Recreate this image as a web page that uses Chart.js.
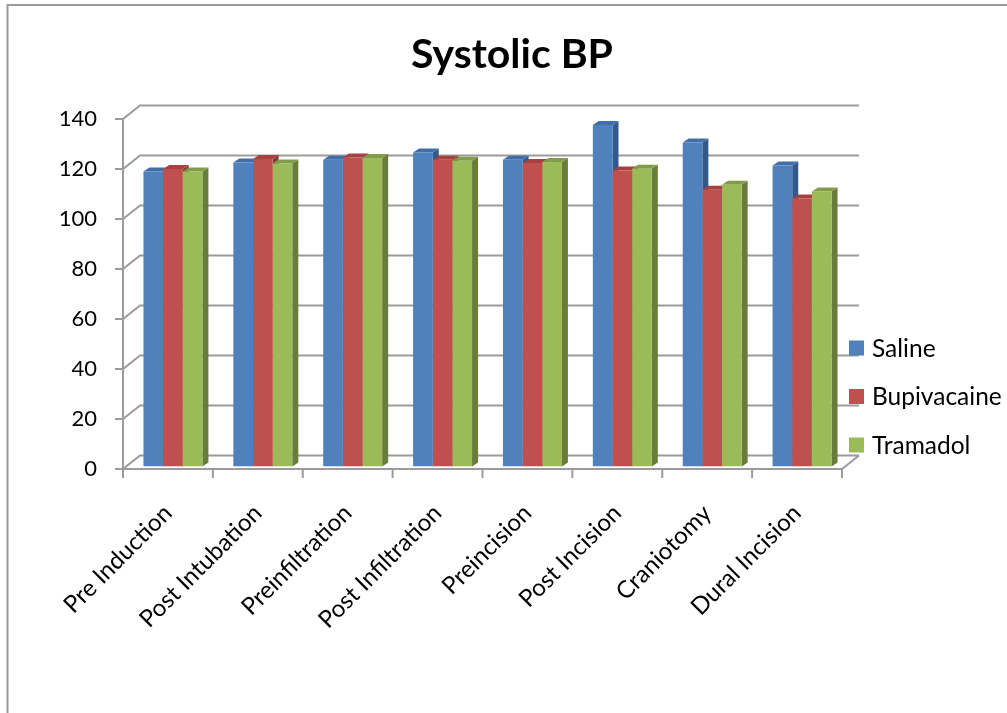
<!DOCTYPE html>
<html>
<head>
<meta charset="utf-8">
<script src="https://cdn.jsdelivr.net/npm/chart.js@4"></script>
<style>
  html, body { margin: 0; padding: 0; background: #fff; }
  #wrap { width: 1007px; height: 713px; }
</style>
</head>
<body>
<div id="wrap"><canvas id="bp" width="1007" height="713"></canvas></div>
<script>
const categories = ['Pre Induction', 'Post Intubation', 'Preinfiltration', 'Post Infiltration',
                    'Preincision', 'Post Incision', 'Craniotomy', 'Dural Incision'];
const saline      = [118, 121.6, 122.7, 125.6, 122.7, 136.6, 129.6, 120.4];
const bupivacaine = [119, 123, 123.6, 122.7, 121.4, 118.4, 110.7, 107.2];
const tramadol    = [118, 121.2, 123.4, 122.3, 121.8, 119.1, 112.7, 110];
const seriesNames = ['Saline', 'Bupivacaine', 'Tramadol'];
const yTicks = [0, 20, 40, 60, 80, 100, 120, 140];

const FONT = 'Lato, "Open Sans", sans-serif';
const GRID = '#9b9b9b';

// face colours: front, top, side
const shades = [
  ['#4f81bd', '#416ea6', '#33588a'],
  ['#c0504d', '#a5423f', '#8f3735'],
  ['#9bbb59', '#819c4a', '#687d3b']
];

// wall depth and bar depth offsets
const WALL = { dx: 17, dy: -13.5 };
const BAR = { dx: 6, dy: -4 };
const SHIFT = { dx: 5, dy: -2.5 };

const wallPlugin = {
  id: 'wall',
  beforeDraw(chart) {
    const { ctx, chartArea: a, scales: { x, y } } = chart;
    ctx.save();
    // outer frame
    ctx.strokeStyle = GRID;
    ctx.lineWidth = 2;
    ctx.beginPath();
    ctx.moveTo(7.5, 760);
    ctx.lineTo(7.5, 5);
    ctx.lineTo(1100, 5);
    ctx.stroke();

    ctx.lineWidth = 2;
    ctx.strokeStyle = GRID;
    ctx.beginPath();
    yTicks.forEach(v => {
      const py = y.getPixelForValue(v);
      // tick, side wall diagonal, back wall line
      ctx.moveTo(a.left - 8, py);
      ctx.lineTo(a.left, py);
      ctx.lineTo(a.left + WALL.dx, py + WALL.dy);
      ctx.lineTo(a.right + WALL.dx, py + WALL.dy);
    });
    // front axis and floor edge
    ctx.moveTo(a.left, a.top);
    ctx.lineTo(a.left, a.bottom);
    ctx.lineTo(a.right, a.bottom);
    ctx.lineTo(a.right + WALL.dx, a.bottom + WALL.dy);
    // category ticks under the floor
    const step = (a.right - a.left) / categories.length;
    for (let i = 0; i <= categories.length; i++) {
      const px = a.left + i * step;
      ctx.moveTo(px, a.bottom);
      ctx.lineTo(px, a.bottom + 9);
    }
    ctx.stroke();

    // title
    ctx.fillStyle = '#000';
    ctx.font = 'bold 41px ' + FONT;
    ctx.textAlign = 'center';
    ctx.textBaseline = 'alphabetic';
    ctx.fillText('Systolic BP', 512, 68);
    ctx.restore();
  },
  beforeDatasetsDraw(chart) {
    const ctx = chart.ctx;
    ctx.save();
    ctx.translate(SHIFT.dx, SHIFT.dy);
    chart.data.datasets.forEach((ds, di) => {
      const meta = chart.getDatasetMeta(di);
      meta.data.forEach(bar => {
        const { x, y, base, width } = bar.getProps(['x', 'y', 'base', 'width'], true);
        const l = x - width / 2, r = x + width / 2;
        // side face
        ctx.fillStyle = shades[di][2];
        ctx.beginPath();
        ctx.moveTo(r, base);
        ctx.lineTo(r, y);
        ctx.lineTo(r + BAR.dx, y + BAR.dy);
        ctx.lineTo(r + BAR.dx, base + BAR.dy);
        ctx.closePath();
        ctx.fill();
        // top face
        ctx.fillStyle = shades[di][1];
        ctx.beginPath();
        ctx.moveTo(l, y);
        ctx.lineTo(r, y);
        ctx.lineTo(r + BAR.dx, y + BAR.dy);
        ctx.lineTo(l + BAR.dx, y + BAR.dy);
        ctx.closePath();
        ctx.fill();
      });
    });
  },
  afterDatasetsDraw(chart) {
    chart.ctx.restore();
  },
  afterDraw(chart) {
    const ctx = chart.ctx;
    ctx.save();
    ctx.font = '24.5px ' + FONT;
    ctx.textBaseline = 'middle';
    ctx.textAlign = 'left';
    chart.data.datasets.forEach((ds, i) => {
      const cy = 348 + i * 48.5;
      ctx.fillStyle = ds.backgroundColor;
      ctx.fillRect(849, cy - 7.5, 15, 15);
      ctx.fillStyle = '#000';
      ctx.fillText(ds.label, 872, cy + 1);
    });
    ctx.restore();
  }
};

new Chart(document.getElementById('bp').getContext('2d'), {
  type: 'bar',
  data: {
    labels: categories,
    datasets: [saline, bupivacaine, tramadol].map((vals, i) => ({
      label: seriesNames[i],
      data: vals,
      backgroundColor: shades[i][0],
      borderWidth: 0,
      categoryPercentage: 0.656,
      barPercentage: 1.0
    }))
  },
  options: {
    responsive: false,
    animation: false,
    layout: { padding: { top: 119, right: 165, bottom: 0, left: 0 } },
    plugins: {
      legend: { display: false },
      title: { display: false },
      tooltip: { enabled: false }
    },
    scales: {
      x: {
        grid: { display: false, drawTicks: false },
        border: { display: false },
        ticks: {
          color: '#000',
          font: { family: FONT, size: 24 },
          minRotation: 45,
          maxRotation: 45,
          padding: 30
        },
        afterFit(scale) { scale.height = 244; }
      },
      y: {
        min: 0,
        max: 140,
        grid: { display: false, drawTicks: false },
        border: { display: false },
        ticks: {
          stepSize: 20,
          color: '#000',
          font: { family: FONT, size: 22 },
          padding: 26
        },
        afterFit(scale) { scale.width = 123; }
      }
    }
  },
  plugins: [wallPlugin]
});
</script>
</body>
</html>
